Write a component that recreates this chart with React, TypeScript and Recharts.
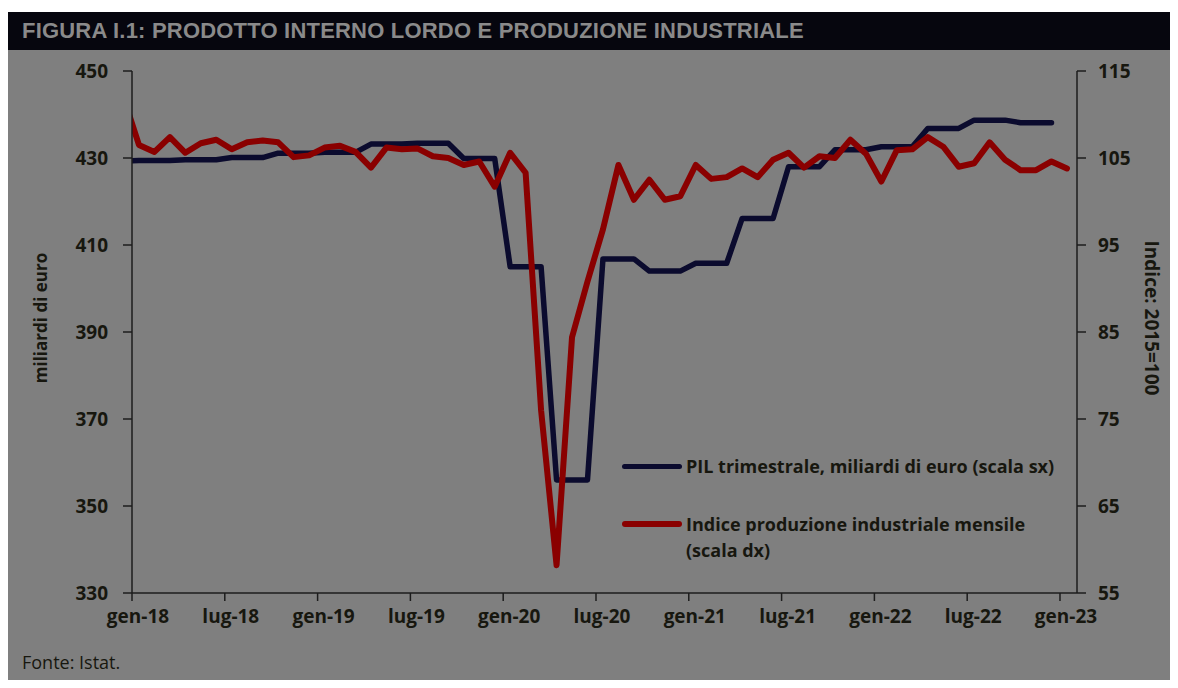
import { ComposedChart, Line, XAxis, YAxis } from "recharts";

// x ticks: months from gen-18
const xTickMonths = [0, 6, 12, 18, 24, 30, 36, 42, 48, 54, 60];
const xTickLabels = ["gen-18", "lug-18", "gen-19", "lug-19", "gen-20", "lug-20", "gen-21", "lug-21", "gen-22", "lug-22", "gen-23"];

const leftTicks = [330, 350, 370, 390, 410, 430, 450];
const rightTicks = [55, 65, 75, 85, 95, 105, 115];

// PIL trimestrale, miliardi di euro: IV trim 2017 .. IV trim 2022
const pilQuarterly = [
  429.3, 429.4, 429.6, 430.1, 431.1, 431.3, 433.2, 433.4, 429.9, 405.0, 356.0,
  406.8, 404.0, 405.8, 416.1, 428.0, 431.9, 432.6, 436.8, 438.7, 438.1,
];

// Indice produzione industriale mensile (2015=100): dic-17 .. gen-23
const ipMonthly = [
  112.0,
  106.5, 105.7, 107.4, 105.6, 106.7, 107.1, 106.0, 106.8, 107.0, 106.8, 105.1, 105.3,
  106.2, 106.4, 105.7, 103.9, 106.2, 106.0, 106.1, 105.2, 105.0, 104.2, 104.6, 101.7,
  105.6, 103.3, 76.0, 58.2, 84.4, 90.8, 96.8, 104.2, 100.2, 102.5, 100.2, 100.6,
  104.2, 102.6, 102.8, 103.8, 102.8, 104.8, 105.6, 103.9, 105.2, 105.0, 107.1, 105.5,
  102.3, 105.9, 106.0, 107.4, 106.3, 104.0, 104.4, 106.8, 104.8, 103.6, 103.6, 104.6,
  103.8,
];

// monthly rows, points at mid-month; quarterly PIL repeated over its three months
const data = ipMonthly.map((ip, k) => {
  const m = k - 1;
  return { x: m + 0.45, ip, pil: pilQuarterly[Math.floor(m / 3) + 1] };
});

const INK = "#17170f";
const BLUE = "#0b0b2e";
const RED = "#8a0000";
const FONT = "'Open Sans', 'Liberation Sans', sans-serif";

const XTick = ({ x, y, payload }: any) => {
  const idx = xTickMonths.indexOf(payload.value);
  return (
    <text x={x + 6} y={y} dy={20} textAnchor="middle" fill={INK} fontSize={19} fontWeight={700} fontFamily={FONT}>
      {xTickLabels[idx]}
    </text>
  );
};

const textStyle = { fontFamily: FONT, fontWeight: 700, color: INK, whiteSpace: "nowrap" as const };

export default function App() {
  return (
    <div style={{ position: "relative", width: 1178, height: 688, margin: -8, background: "#fff", overflow: "hidden" }}>
      <div style={{ position: "absolute", left: 8, top: 12, width: 1164, height: 676, background: "#06060e" }} />
      <div
        style={{
          position: "absolute",
          left: 22,
          top: 18,
          fontFamily: "'Liberation Sans', sans-serif",
          fontWeight: 700,
          fontSize: 22,
          letterSpacing: 0.2,
          color: "#8a8a8a",
          whiteSpace: "nowrap",
        }}
      >
        FIGURA I.1: PRODOTTO INTERNO LORDO E PRODUZIONE INDUSTRIALE
      </div>
      <div style={{ position: "absolute", left: 8, top: 50, width: 1164, height: 631, background: "#7f7f7f" }}>
        <ComposedChart width={1164} height={631} data={data} margin={{ top: 21, right: 0, bottom: 0, left: 0 }}>
          <XAxis
            dataKey="x"
            type="number"
            domain={[0, 61.1]}
            allowDataOverflow
            ticks={xTickMonths}
            interval={0}
            height={88}
            tickSize={8}
            tickMargin={2}
            tick={<XTick />}
            axisLine={{ stroke: "#1c1c1c", strokeWidth: 1.5 }}
            tickLine={{ stroke: "#1c1c1c", strokeWidth: 1.5 }}
          />
          <YAxis
            yAxisId="left"
            orientation="left"
            domain={[330, 450]}
            ticks={leftTicks}
            interval={0}
            allowDataOverflow
            width={124}
            tickSize={9}
            tickMargin={15}
            tick={{ fill: INK, fontSize: 19, fontWeight: 700, fontFamily: FONT }}
            axisLine={{ stroke: "#1c1c1c", strokeWidth: 1.5 }}
            tickLine={{ stroke: "#1c1c1c", strokeWidth: 1.5 }}
          />
          <YAxis
            yAxisId="right"
            orientation="right"
            domain={[55, 115]}
            ticks={rightTicks}
            interval={0}
            allowDataOverflow
            width={95}
            tickSize={9}
            tickMargin={12}
            tick={{ fill: INK, fontSize: 19, fontWeight: 700, fontFamily: FONT, textAnchor: "start" }}
            axisLine={{ stroke: "#1c1c1c", strokeWidth: 1.5 }}
            tickLine={{ stroke: "#1c1c1c", strokeWidth: 1.5 }}
          />
          <Line
            yAxisId="left"
            dataKey="pil"
            stroke={BLUE}
            strokeWidth={5.5}
            strokeLinejoin="round"
            strokeLinecap="round"
            dot={false}
            activeDot={false}
            isAnimationActive={false}
          />
          <Line
            yAxisId="right"
            dataKey="ip"
            stroke={RED}
            strokeWidth={6}
            strokeLinejoin="round"
            strokeLinecap="round"
            dot={false}
            activeDot={false}
            isAnimationActive={false}
          />
        </ComposedChart>

        {/* legend, inside the plot area */}
        <div style={{ position: "absolute", left: 614, top: 403, fontSize: 18, lineHeight: "26px", ...textStyle }}>
          <div style={{ display: "flex", alignItems: "center" }}>
            <span style={{ width: 60, height: 5, background: BLUE, borderRadius: 3, marginRight: 4 }} />
            <span>PIL trimestrale, miliardi di euro (scala sx)</span>
          </div>
          <div style={{ display: "flex", alignItems: "flex-start", marginTop: 32 }}>
            <span style={{ width: 60, height: 6, background: RED, borderRadius: 3, marginRight: 4, marginTop: 10 }} />
            <span>
              Indice produzione industriale mensile
              <br />
              (scala dx)
            </span>
          </div>
        </div>

        <div
          style={{
            position: "absolute",
            left: 32,
            top: 268,
            transform: "translate(-50%, -50%) rotate(-90deg)",
            fontSize: 17,
            ...textStyle,
          }}
        >
          miliardi di euro
        </div>
        <div
          style={{
            position: "absolute",
            left: 1144,
            top: 268,
            transform: "translate(-50%, -50%) rotate(90deg)",
            fontSize: 19,
            ...textStyle,
          }}
        >
          Indice: 2015=100
        </div>
        <div
          style={{
            position: "absolute",
            left: 14,
            top: 600,
            fontFamily: FONT,
            fontSize: 18,
            color: INK,
            whiteSpace: "nowrap",
          }}
        >
          Fonte: Istat.
        </div>
      </div>
    </div>
  );
}
